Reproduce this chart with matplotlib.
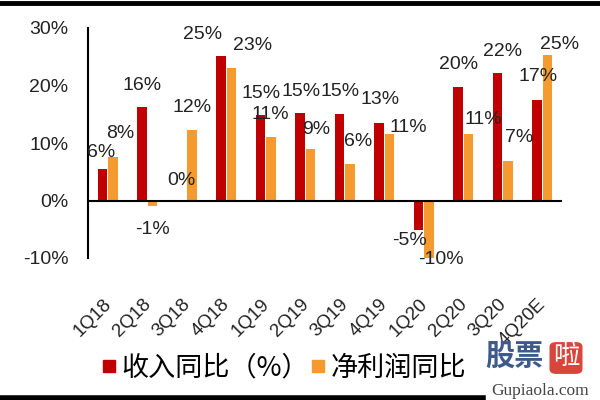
import matplotlib
matplotlib.use("Agg")
import matplotlib.pyplot as plt
from matplotlib.patches import FancyBboxPatch
from matplotlib.lines import Line2D
from matplotlib.transforms import ScaledTranslation
import numpy as np

categories = ["1Q18", "2Q18", "3Q18", "4Q18", "1Q19", "2Q19", "3Q19", "4Q19",
              "1Q20", "2Q20", "3Q20", "4Q20E"]
revenue_yoy = [5.5, 16.2, 0.0, 25.2, 14.8, 15.3, 15.0, 13.4, -5.2, 19.7, 22.1, 17.5]
profit_yoy = [7.6, -0.9, 12.3, 23.1, 11.0, 9.0, 6.4, 11.5, -10.0, 11.5, 6.8, 25.3]
revenue_labels = ["6%", "16%", "0%", "25%", "15%", "15%", "15%", "13%", "-5%", "20%", "22%", "17%"]
profit_labels = ["8%", "-1%", "12%", "23%", "11%", "9%", "6%", "11%", "-10%", "11%", "7%", "25%"]
series_names = ["收入同比（%）", "净利润同比"]
yticks = [-10, 0, 10, 20, 30]

# label offsets (pixels) relative to bar end
rev_off = [(-1.5, -16), (0, -22), (0, -20), (-19, -21), (0, -22), (1, -21), (0, -23),
           (1, -24), (-9, 10), (0, -23), (5, -22), (1, -23)]
pro_off = [(7, -23), (0, 24), (0, -22), (21, -22), (-1, -23), (6, -19), (8, -22),
           (19, -7), (12, 1), (15, -15), (11, -24), (12, -11)]

RED = "#C00000"
ORANGE = "#F59A2E"

plt.rcParams['font.family'] = ['Liberation Sans', 'DejaVu Sans']

fig = plt.figure(figsize=(6, 4), dpi=100)
ax = fig.add_axes([88/600, 1-258/400, (562-88)/600, (258-28)/400])

x = np.arange(len(categories))
w = 0.24
ax.bar(x - w/2 - 0.01, revenue_yoy, width=w, color=RED, zorder=2)
ax.bar(x + w/2 + 0.01, profit_yoy, width=w, color=ORANGE, zorder=2)

ax.set_xlim(-0.5, len(categories) - 0.5)
ax.set_ylim(-10, 30)
ax.axhline(0, color="black", lw=1.5, zorder=3)

for s in ["top", "right", "bottom"]:
    ax.spines[s].set_visible(False)
ax.spines["left"].set_linewidth(1.5)

ax.set_yticks(yticks)
ax.set_yticklabels([f"{v}%" for v in yticks], fontsize=14, color="#222222")
ax.tick_params(axis="y", length=0, pad=14)
ax.set_xticks(x)
ax.set_xticklabels(categories, fontsize=13.5, color="#222222", rotation=45,
                   ha="right", rotation_mode="anchor")
ax.tick_params(axis="x", length=0, pad=27)
for lbl in ax.get_xticklabels():
    lbl.set_transform(lbl.get_transform() + ScaledTranslation(-5/100, 0, fig.dpi_scale_trans))

pt = 0.72
for i in range(len(categories)):
    dx, dy = rev_off[i]
    ax.annotate(revenue_labels[i], xy=(x[i] - w/2 - 0.01, revenue_yoy[i]),
                xytext=(dx*pt, -dy*pt), textcoords="offset points",
                ha="center", va="center", fontsize=14, color="#222222", zorder=4)
    dx, dy = pro_off[i]
    ax.annotate(profit_labels[i], xy=(x[i] + w/2 + 0.01, profit_yoy[i]),
                xytext=(dx*pt, -dy*pt), textcoords="offset points",
                ha="center", va="center", fontsize=14, color="#222222", zorder=4)

# legend
handles = [Line2D([], [], marker="s", ls="", color=RED, markersize=8),
           Line2D([], [], marker="s", ls="", color=ORANGE, markersize=8)]
fig.legend(handles, series_names, loc="center", bbox_to_anchor=(284/600, 1-368/400),
           ncol=2, frameon=False, handlelength=0.5, handletextpad=0.2, columnspacing=0.1,
           prop={"family": ["Noto Sans CJK SC", "DejaVu Sans"], "size": 19.5})

# frame lines
fig.add_artist(Line2D([0, 1], [1-2.5/400, 1-2.5/400], color="black", lw=3.5,
                      transform=fig.transFigure))
fig.add_artist(Line2D([0, 483/600], [2.5/400, 2.5/400], color="black", lw=4,
                      transform=fig.transFigure))

# watermark
fig.text(485/600, 1-356/400, "股票", fontsize=21, color="#3D5A8A", weight="bold",
         family=["Noto Sans CJK SC"], ha="left", va="center")
box = FancyBboxPatch((552/600, 1-372/400), 28/600, 28/400,
                     boxstyle="round,pad=0.003,rounding_size=0.01",
                     transform=fig.transFigure, color="#D9453A")
fig.add_artist(box)
fig.text(566/600, 1-357/400, "啦", fontsize=19, color="white",
         family=["Noto Sans CJK SC"], ha="center", va="center")
fig.text(540/600, 1-391/400, "Gupiaola.com", fontsize=12.5, color="#444444",
         family=["Liberation Serif"], ha="center", va="center")

fig.savefig("out.png", dpi=100)
